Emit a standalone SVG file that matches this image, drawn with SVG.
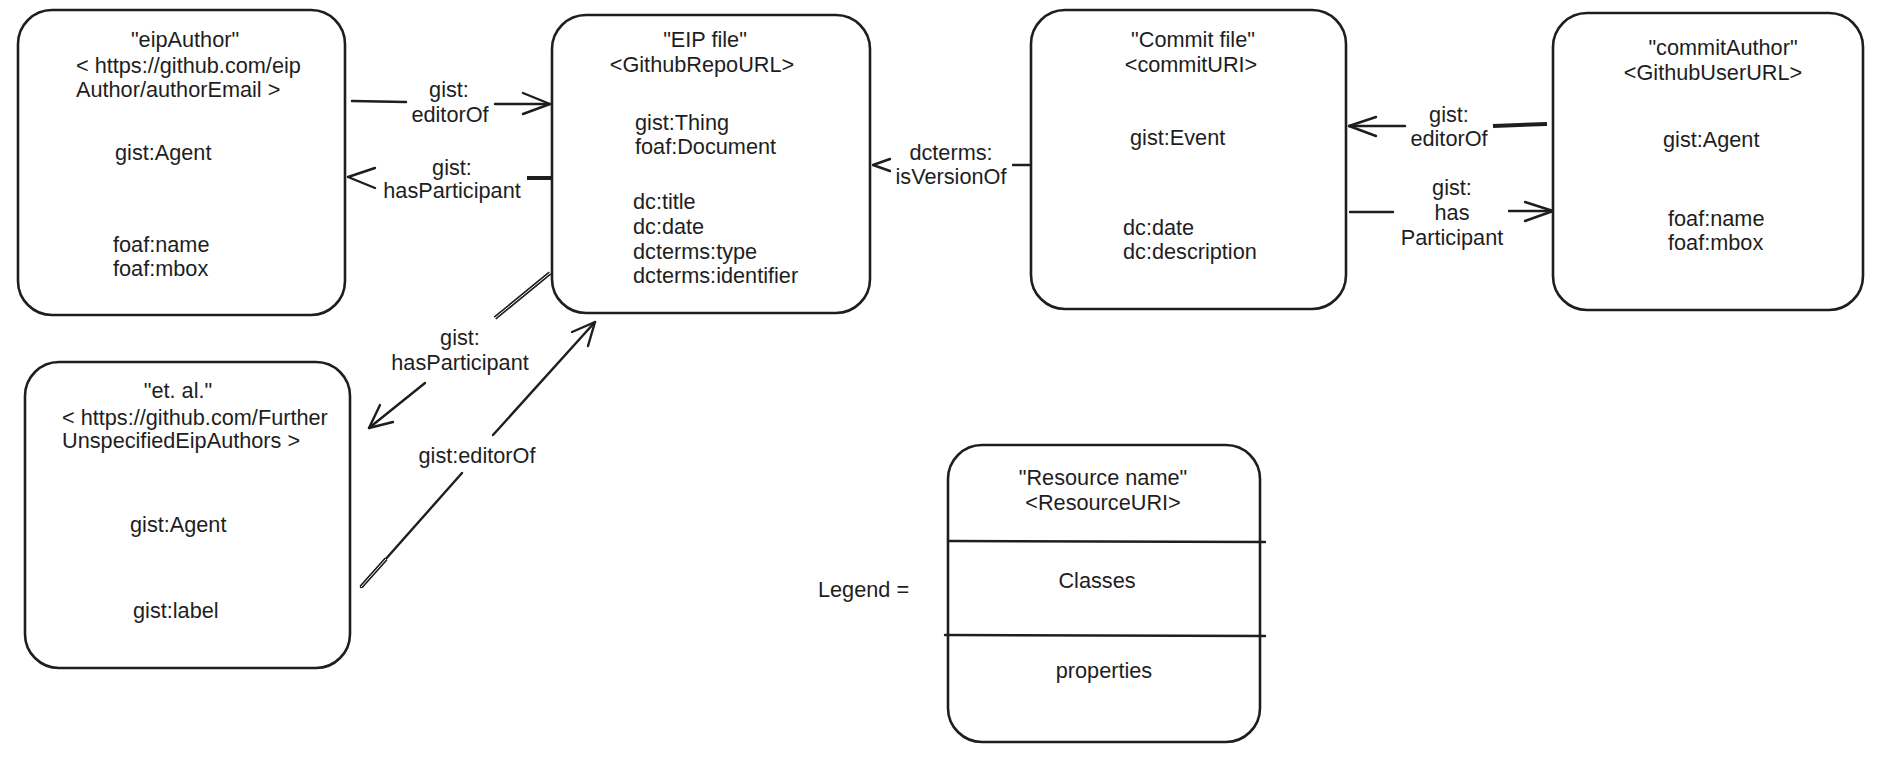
<svg xmlns="http://www.w3.org/2000/svg" width="1890" height="762" viewBox="0 0 1890 762">
<defs>
<style>
text{font-family:"Liberation Sans",Arial,Helvetica,sans-serif;font-size:21.7px;fill:#1e1e1e}
.m{text-anchor:middle}
.box{fill:#ffffff;stroke:#1e1e1e;stroke-width:2.6}
.ln{fill:none;stroke:#1e1e1e;stroke-width:2.4;stroke-linecap:round;stroke-linejoin:round}
.thick{fill:none;stroke:#1e1e1e;stroke-width:4;stroke-linecap:butt}
.gap{fill:none;stroke:#ffffff;stroke-width:1;stroke-linecap:butt}
</style>
</defs>
<rect width="1890" height="762" fill="#ffffff"/>

<g id="connectors">
  <!-- eipAuthor -> EIP editorOf -->
  <g id="e1">
    <path class="ln" d="M352 101 L406 102"/>
    <path class="ln" d="M495 104 L550 104"/>
    <path class="ln" d="M523 93 L550 104 L523 114"/>
    <text class="m" x="449" y="97">gist:</text>
    <text class="m" x="450" y="122">editorOf</text>
  </g>
  <!-- EIP -> eipAuthor hasParticipant -->
  <g id="e2">
    <path class="thick" d="M527 178 L552 178"/>
    <path class="ln" d="M375 168 L348 177 L375 188"/>
    <text class="m" x="452" y="175">gist:</text>
    <text class="m" x="452" y="198">hasParticipant</text>
  </g>
  <!-- Commit -> EIP isVersionOf -->
  <g id="e3">
    <path class="ln" d="M1013 165 L1031 165"/>
    <path class="ln" d="M890 159 L873 165 L890 171" stroke-width="3"/>
    <text class="m" x="951" y="160">dcterms:</text>
    <text class="m" x="951" y="184">isVersionOf</text>
  </g>
  <!-- commitAuthor -> Commit editorOf -->
  <g id="e4">
    <path class="thick" d="M1493 126 L1547 124" stroke-width="3.5"/>
    <path class="ln" d="M1349 126 L1405 126"/>
    <path class="ln" d="M1376 117 L1349 126 L1376 136"/>
    <text class="m" x="1449" y="122">gist:</text>
    <text class="m" x="1449" y="146">editorOf</text>
  </g>
  <!-- Commit -> commitAuthor hasParticipant -->
  <g id="e5">
    <path class="ln" d="M1350 212 L1393 212" stroke-width="3"/>
    <path class="ln" d="M1509 211 L1553 211" stroke-width="3"/>
    <path class="ln" d="M1525 202 L1553 211 L1525 221"/>
    <text class="m" x="1452" y="195">gist:</text>
    <text class="m" x="1452" y="220">has</text>
    <text class="m" x="1452" y="245">Participant</text>
  </g>
  <!-- EIP -> et al hasParticipant -->
  <g id="e6">
    <path class="thick" d="M550 273 L495 318" stroke-width="4"/>
    <path class="gap" d="M550 273 L495 318"/>
    <path class="ln" d="M425 383 L369 428"/>
    <path class="ln" d="M380 405 L369 428 L393 422"/>
    <text class="m" x="460" y="345">gist:</text>
    <text class="m" x="460" y="370">hasParticipant</text>
  </g>
  <!-- et al -> EIP editorOf -->
  <g id="e7">
    <path class="ln" d="M361 587 L462 473"/>
    <path class="thick" d="M361 587 L386 559" stroke-width="3.6"/>
    <path class="gap" d="M361 587 L386 559" stroke-width="0.8"/>
    <path class="ln" d="M493 435 L595 322"/>
    <path class="ln" d="M572 332 L595 322 L588 346"/>
    <text class="m" x="477" y="463">gist:editorOf</text>
  </g>
</g>

<g id="eipAuthor">
  <rect class="box" x="18" y="10" width="327" height="305" rx="34"/>
  <text class="m" x="185" y="47">"eipAuthor"</text>
  <text x="76" y="73">&lt; https://github.com/eip</text>
  <text x="76" y="97">Author/authorEmail &gt;</text>
  <text x="115" y="160">gist:Agent</text>
  <text x="113" y="252">foaf:name</text>
  <text x="113" y="276">foaf:mbox</text>
</g>

<g id="eipFile">
  <rect class="box" x="552" y="15" width="318" height="298" rx="34"/>
  <text class="m" x="705" y="47">"EIP file"</text>
  <text class="m" x="702" y="72">&lt;GithubRepoURL&gt;</text>
  <text x="635" y="130">gist:Thing</text>
  <text x="635" y="154">foaf:Document</text>
  <text x="633" y="209">dc:title</text>
  <text x="633" y="234">dc:date</text>
  <text x="633" y="259">dcterms:type</text>
  <text x="633" y="283">dcterms:identifier</text>
</g>

<g id="commitFile">
  <rect class="box" x="1031" y="10" width="315" height="299" rx="34"/>
  <text class="m" x="1193" y="47">"Commit file"</text>
  <text class="m" x="1191" y="72">&lt;commitURI&gt;</text>
  <text x="1130" y="145">gist:Event</text>
  <text x="1123" y="235">dc:date</text>
  <text x="1123" y="259">dc:description</text>
</g>

<g id="commitAuthor">
  <rect class="box" x="1553" y="13" width="310" height="297" rx="34"/>
  <text class="m" x="1723" y="55">"commitAuthor"</text>
  <text class="m" x="1713" y="80">&lt;GithubUserURL&gt;</text>
  <text x="1663" y="147">gist:Agent</text>
  <text x="1668" y="226">foaf:name</text>
  <text x="1668" y="250">foaf:mbox</text>
</g>

<g id="etAl">
  <rect class="box" x="25" y="362" width="325" height="306" rx="34"/>
  <text class="m" x="178" y="398">"et. al."</text>
  <text x="62" y="425">&lt; https://github.com/Further</text>
  <text x="62" y="448">UnspecifiedEipAuthors &gt;</text>
  <text x="130" y="532">gist:Agent</text>
  <text x="133" y="618">gist:label</text>
</g>

<g id="legend">
  <text x="818" y="597">Legend =</text>
  <rect class="box" x="948" y="445" width="312" height="297" rx="34"/>
  <path class="ln" d="M948 541 L1265 542" stroke-width="3"/>
  <path class="ln" d="M945 635 L1265 636" stroke-width="3"/>
  <text class="m" x="1103" y="485">"Resource name"</text>
  <text class="m" x="1103" y="510">&lt;ResourceURI&gt;</text>
  <text class="m" x="1097" y="588">Classes</text>
  <text class="m" x="1104" y="678">properties</text>
</g>
</svg>
